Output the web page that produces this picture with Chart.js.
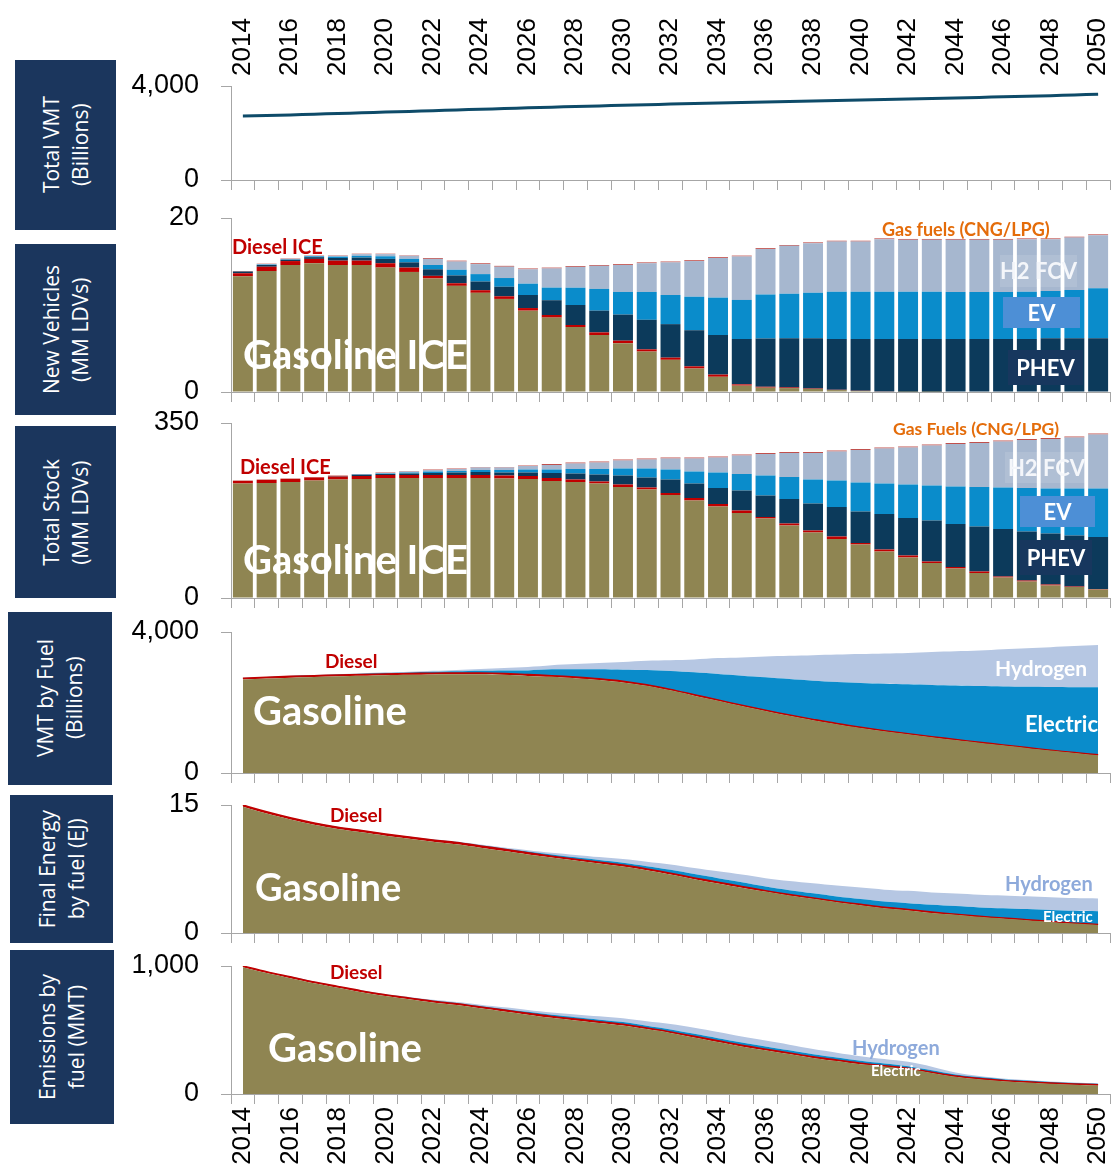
<!DOCTYPE html>
<html><head><meta charset="utf-8">
<script src="https://cdn.jsdelivr.net/npm/chart.js"></script>
<style>
html,body{margin:0;padding:0;background:#fff}
body{width:1112px;height:1171px;position:relative;overflow:hidden}
.box{position:absolute;background:#1b365d;color:#fff;display:flex;align-items:center;justify-content:center}
.box span{writing-mode:vertical-rl;transform:rotate(180deg);white-space:nowrap;text-align:center;font-family:"Open Sans",sans-serif;font-size:21px;line-height:29px}
canvas{position:absolute;left:0}
.t{position:absolute;font-family:Lato,sans-serif;font-weight:bold;white-space:nowrap;line-height:1}
.bx{position:absolute;font-family:Lato,sans-serif;font-weight:bold;color:#fff;display:flex;align-items:center;justify-content:center;line-height:1;white-space:nowrap}
</style>
</head><body>
<div class="box" style="left:15px;top:60px;width:101px;height:170px"><span>Total VMT<br>(Billions)</span></div>
<div class="box" style="left:15px;top:244px;width:101px;height:171px"><span>New Vehicles<br>(MM LDVs)</span></div>
<div class="box" style="left:15px;top:426px;width:101px;height:172px"><span>Total Stock<br>(MM LDVs)</span></div>
<div class="box" style="left:8px;top:612px;width:104px;height:173px"><span>VMT by Fuel<br>(Billions)</span></div>
<div class="box" style="left:10px;top:795px;width:103px;height:148px"><span>Final Energy<br>by fuel (EJ)</span></div>
<div class="box" style="left:10px;top:950px;width:104px;height:174px"><span>Emissions by<br>fuel (MMT)</span></div>

<canvas id="c1" width="1112" height="220" style="top:0px"></canvas>
<canvas id="c2" width="1112" height="254" style="top:178px"></canvas>
<canvas id="c3" width="1112" height="255" style="top:383px"></canvas>
<canvas id="c4" width="1112" height="221" style="top:592px"></canvas>
<canvas id="c5" width="1112" height="208" style="top:765px"></canvas>
<canvas id="c6" width="1112" height="245" style="top:926px"></canvas>

<!-- panel 2 labels -->
<div class="t" style="left:232px;top:236px;font-size:20px;color:#c00000">Diesel ICE</div>
<div class="t" style="left:243px;top:334px;font-size:40px;color:#fff">Gasoline ICE</div>
<div class="t" style="left:882px;top:220px;font-size:18px;color:#e46c0a">Gas fuels (CNG/LPG)</div>
<div class="bx" style="left:1000px;top:255px;width:77px;height:32px;font-size:22px;background:rgba(255,255,255,0.12);color:#f4f6fa">H2 FCV</div>
<div class="bx" style="left:1003px;top:297px;width:77px;height:31px;font-size:22px;background:#4d8fd6">EV</div>
<div class="bx" style="left:1008px;top:350px;width:75px;height:35px;font-size:22px;background:#17375e">PHEV</div>
<!-- panel 3 labels -->
<div class="t" style="left:240px;top:456px;font-size:20px;color:#c00000">Diesel ICE</div>
<div class="t" style="left:243px;top:539px;font-size:40px;color:#fff">Gasoline ICE</div>
<div class="t" style="left:893px;top:420px;font-size:17.5px;color:#e46c0a">Gas Fuels (CNG/LPG)</div>
<div class="bx" style="left:1005px;top:452px;width:83px;height:31px;font-size:22px;background:rgba(255,255,255,0.12);color:#f4f6fa">H2 FCV</div>
<div class="bx" style="left:1020px;top:496px;width:75px;height:31px;font-size:22px;background:#4d8fd6">EV</div>
<div class="bx" style="left:1020px;top:540px;width:72px;height:35px;font-size:22px;background:#17375e">PHEV</div>
<!-- panel 4 labels -->
<div class="t" style="left:325px;top:651px;font-size:19px;color:#c00000">Diesel</div>
<div class="t" style="left:253px;top:690px;font-size:40px;color:#fff">Gasoline</div>
<div class="t" style="left:995px;top:657px;font-size:21px;color:#fff">Hydrogen</div>
<div class="t" style="left:1025px;top:713px;font-size:22px;color:#fff">Electric</div>
<!-- panel 5 labels -->
<div class="t" style="left:330px;top:805px;font-size:19px;color:#c00000">Diesel</div>
<div class="t" style="left:255px;top:867px;font-size:38px;color:#fff">Gasoline</div>
<div class="t" style="left:1005px;top:873px;font-size:20px;color:#8eaadb">Hydrogen</div>
<div class="t" style="left:1043px;top:909px;font-size:15px;color:#fff">Electric</div>
<!-- panel 6 labels -->
<div class="t" style="left:330px;top:962px;font-size:19px;color:#c00000">Diesel</div>
<div class="t" style="left:268px;top:1027px;font-size:40px;color:#fff">Gasoline</div>
<div class="t" style="left:852px;top:1037px;font-size:20px;color:#8eaadb">Hydrogen</div>
<div class="t" style="left:871px;top:1063px;font-size:15px;color:#fff">Electric</div>

<script>
// ---------------- DATA ----------------
const years = ['2014','2015','2016','2017','2018','2019','2020','2021','2022','2023','2024','2025','2026','2027','2028','2029','2030','2031','2032','2033','2034','2035','2036','2037','2038','2039','2040','2041','2042','2043','2044','2045','2046','2047','2048','2049','2050'];

// Total VMT (billions)
const totalVMT = [2720,2740,2770,2800,2830,2860,2890,2920,2950,2980,3010,3040,3070,3100,3125,3150,3180,3205,3230,3255,3280,3300,3320,3340,3360,3380,3400,3425,3450,3470,3490,3515,3540,3565,3590,3620,3650];

// New vehicles (MM LDVs)
const nvGasoline = [13.3,13.9,14.6,14.8,14.6,14.6,14.3,13.8,13.05,12.2,11.4,10.7,9.35,8.55,7.47,6.55,5.6,4.65,3.7,2.7,1.75,0.73,0.5,0.45,0.35,0.22,0.12,0.05,0.02,0.02,0,0,0,0,0,0,0];
const nvDiesel   = [0.35,0.5,0.45,0.5,0.5,0.5,0.5,0.5,0.3,0.3,0.3,0.3,0.3,0.3,0.23,0.3,0.3,0.25,0.25,0.25,0.25,0.15,0.1,0.08,0.05,0.03,0.02,0.01,0,0,0,0,0,0,0,0,0];
const nvPHEV     = [0.2,0.2,0.15,0.2,0.3,0.35,0.5,0.6,0.75,0.9,1.0,1.1,1.5,1.7,2.3,2.5,3.0,3.4,3.85,4.15,4.55,5.2,5.55,5.64,5.77,5.84,5.95,6.03,6.07,6.07,6.09,6.09,6.09,6.09,6.17,6.17,6.17];
const nvEV       = [0,0.05,0.05,0.1,0.15,0.2,0.3,0.4,0.5,0.65,0.85,1.0,1.3,1.45,1.99,2.5,2.6,3.2,3.35,3.85,4.3,4.5,5.05,5.13,5.25,5.44,5.44,5.44,5.44,5.44,5.4,5.4,5.4,5.44,5.44,5.55,5.75];
const nvH2       = [0,0.05,0.05,0.05,0.1,0.2,0.25,0.35,0.7,0.95,1.15,1.3,1.65,2.2,2.39,2.65,3.1,3.3,3.75,4.1,4.55,5.0,5.25,5.5,5.68,5.76,5.76,6.03,5.96,5.96,6.0,6.0,6.0,6.03,5.95,6.03,6.1];
const nvGasFuels = [0.05,0.05,0.05,0.05,0.05,0.05,0.05,0.05,0.1,0.1,0.1,0.1,0.1,0.1,0.1,0.1,0.1,0.1,0.1,0.1,0.1,0.1,0.1,0.1,0.1,0.1,0.1,0.1,0.1,0.1,0.1,0.1,0.1,0.1,0.1,0.1,0.1];

// Total stock (MM LDVs)
const stGasoline = [229,230,232,235,237,238,240,240,240,240,240,239,238,234,232,229,222,217,206,195,183,170,159,145,131,118,107,93,81,70,59,50,41,33,25,22,17];
const stDiesel   = [5,6,6,6,6,6,6,6,6,6,6,6,6,6,5,4,5,4,4,5,5,5,3,4,4,5,3,4,4,3,3,3,2,2,2,1,1];
const stPHEV     = [0,0,0,0,1,2,2,3,4,5,6,6,7,10,12,14,18,20,27,29,32,40,43,49,54,59,63,71,75,82,86,90,95,98,102,102,104];
const stEV       = [0,0,0,0,0,1,1,2,3,3,4,5,6,7,9,11,14,18,20,24,31,33,40,44,48,53,58,61,67,70,75,79,83,87,90,94,97];
const stH2       = [0,0,0,0,0,0,1,2,3,4,5,5,7,9,11,13,16,18,22,26,30,37,43,48,53,58,65,70,74,80,85,88,92,96,99,102,108];
const stGasFuels = [1,1,1,1,1,1,1,1,1,1,1,1,1,2,2,2,2,2,2,2,2,2,2,2,2,2,2,2,2,2,2,2,2,2,2,2,2];

// VMT by fuel (billions)
const vmtGasoline = [2655,2680,2705,2725,2745,2760,2775,2785,2795,2800,2800,2785,2755,2730,2690,2640,2570,2475,2345,2195,2050,1900,1760,1625,1500,1385,1280,1185,1100,1015,935,860,785,710,635,570,505];
const vmtDiesel   = [35,35,35,35,35,35,35,35,35,35,35,35,35,30,30,30,30,25,25,25,20,20,20,20,20,15,15,15,15,15,15,10,10,10,10,10,10];
const vmtElectric = [5,5,10,10,15,20,25,30,40,50,65,90,120,180,220,270,330,420,525,635,735,840,935,1020,1100,1180,1255,1330,1400,1465,1530,1595,1660,1725,1795,1855,1915];
const vmtHydrogen = [5,5,10,10,10,15,20,25,30,40,50,70,100,120,150,180,220,265,305,365,455,520,590,660,720,780,825,860,890,940,975,1010,1055,1095,1130,1165,1200];

// Final energy by fuel (EJ)
const enGasoline = [14.8,14.0,13.3,12.7,12.2,11.8,11.4,11.05,10.7,10.4,10.0,9.6,9.2,8.85,8.5,8.15,7.8,7.35,6.85,6.3,5.8,5.3,4.85,4.4,4.0,3.6,3.25,2.9,2.65,2.35,2.15,1.9,1.7,1.5,1.3,1.1,0.95];
const enDiesel   = [0.2,0.2,0.2,0.2,0.2,0.2,0.2,0.2,0.2,0.2,0.2,0.2,0.2,0.15,0.15,0.15,0.15,0.15,0.15,0.15,0.15,0.15,0.1,0.1,0.1,0.1,0.1,0.1,0.1,0.1,0.05,0.05,0.05,0.05,0.05,0.05,0.05];
const enElectric = [0,0,0,0.01,0.01,0.01,0.01,0.02,0.03,0.05,0.07,0.1,0.15,0.2,0.22,0.25,0.28,0.33,0.4,0.45,0.48,0.5,0.5,0.52,0.55,0.58,0.62,0.68,0.75,0.85,0.95,1.05,1.15,1.25,1.35,1.45,1.55];
const enHydrogen = [0,0,0,0.01,0.01,0.02,0.03,0.04,0.05,0.07,0.09,0.12,0.16,0.2,0.28,0.35,0.43,0.52,0.62,0.71,0.8,0.9,0.98,1.08,1.18,1.28,1.35,1.4,1.44,1.46,1.48,1.49,1.5,1.5,1.5,1.5,1.5];

// Emissions by fuel (MMT)
const emGasoline = [990,945,905,865,830,795,765,740,715,695,670,645,620,595,575,555,535,507,477,442,407,372,342,312,282,257,232,215,195,165,135,115,100,90,80,73,67];
const emDiesel   = [10,10,10,10,10,10,10,10,10,10,10,10,10,10,10,10,10,8,8,8,8,8,8,8,8,8,8,5,5,5,5,5,5,5,5,5,5];
const emElectric = [1,1,2,2,2,3,3,4,5,6,8,10,12,14,15,16,17,18,19,20,21,22,22,22,21,20,19,18,17,15,13,12,11,10,9,8,8];
const emHydrogen = [1,1,2,2,2,3,3,4,6,8,10,12,15,18,22,26,30,35,42,47,48,47,45,43,40,38,36,35,34,28,15,8,5,4,3,3,3];

// axis maxima (tick labels at 0 and max)
const axisMax = [4000, 20, 350, 4000, 15, 1000];

// ---------------- STYLE ----------------
const C = {
  gasoline:'#8f8552', diesel:'#c00000', phev:'#0c3a5b', ev:'#0a8ccb', h2bar:'#a6b7cf', gasfuel:'#c0504d',
  elecArea:'#0a8ccb', h2Area:'#b6c7e3', line:'#0e4b69', axis:'#a6a6a6'
};
const tickFont = {family:'"Liberation Sans", Arial, sans-serif', size:27};
const yearFont = {family:'"Liberation Sans", Arial, sans-serif', size:26};
const LEFT = 231;

function xAxis(showLabels){
  return {
    type:'category', offset:true, stacked:true,
    grid:{display:true, drawOnChartArea:false, drawTicks:true, tickLength:10, offset:true, color:C.axis, lineWidth:1},
    border:{display:true, color:C.axis, width:1},
    ticks:{display:showLabels, autoSkip:false, maxRotation:90, minRotation:90, padding:3, font:yearFont, color:'#000',
      callback:(v,i)=> (i%2===0 ? years[i] : '')},
    afterFit: s => { s.height = showLabels ? 77 : 10; s.paddingLeft = 0; s.paddingRight = 0; }
  };
}
function yAxis(max){
  return {
    min:0, max:max, stacked:true,
    grid:{display:true, drawOnChartArea:false, drawTicks:true, tickLength:10, color:C.axis, lineWidth:1},
    border:{display:true, color:C.axis, width:1},
    ticks:{padding:22, font:tickFont, color:'#000', callback:v=>Number(v).toLocaleString('en-US')},
    afterBuildTicks: s => { s.ticks = [{value:0},{value:max}]; },
    afterFit: s => { s.width = LEFT; }
  };
}
function baseOpts(padTop, padBottom, scales){
  return {
    responsive:false, devicePixelRatio:1, animation:false,
    layout:{padding:{left:0, right:2, top:padTop, bottom:padBottom}},
    plugins:{legend:{display:false}, tooltip:{enabled:false}},
    elements:{point:{radius:0}},
    scales:scales
  };
}
function bar(label, data, color){
  return {label, data, backgroundColor:color, borderWidth:0, categoryPercentage:1.0, barPercentage:0.84};
}
function area(label, data, color, fill, border){
  return {label, data, backgroundColor:color, borderColor:border||color, borderWidth:border?1.6:0, fill:fill, pointRadius:0, tension:0.3};
}

// Panel 1: total VMT line
new Chart(document.getElementById('c1'), {
  type:'line',
  data:{labels:years, datasets:[{label:'Total VMT', data:totalVMT, borderColor:C.line, borderWidth:3, fill:false, pointRadius:0, tension:0.2}]},
  options: baseOpts(6, 30, {
    x: Object.assign(xAxis(false), {stacked:false}),
    xt: {type:'category', position:'top', offset:true, grid:{display:false, drawTicks:false}, border:{display:false},
         ticks:{autoSkip:false, maxRotation:90, minRotation:90, padding:10, labelOffset:31, font:yearFont, color:'#000',
                callback:(v,i)=> (i%2===0 ? years[i] : '')},
         afterFit: s => { s.height = 80; s.paddingLeft = 0; s.paddingRight = 0; }},
    y: Object.assign(yAxis(axisMax[0]), {stacked:false})
  })
});

// Panel 2: new vehicles
new Chart(document.getElementById('c2'), {
  type:'bar',
  data:{labels:years, datasets:[
    bar('Gasoline ICE', nvGasoline, C.gasoline),
    bar('Diesel ICE', nvDiesel, C.diesel),
    bar('PHEV', nvPHEV, C.phev),
    bar('EV', nvEV, C.ev),
    bar('H2 FCV', nvH2, C.h2bar),
    bar('Gas fuels (CNG/LPG)', nvGasFuels, C.gasfuel)
  ]},
  options: baseOpts(40, 30, {x:xAxis(false), y:yAxis(axisMax[1])})
});

// Panel 3: total stock
new Chart(document.getElementById('c3'), {
  type:'bar',
  data:{labels:years, datasets:[
    bar('Gasoline ICE', stGasoline, C.gasoline),
    bar('Diesel ICE', stDiesel, C.diesel),
    bar('PHEV', stPHEV, C.phev),
    bar('EV', stEV, C.ev),
    bar('H2 FCV', stH2, C.h2bar),
    bar('Gas Fuels (CNG/LPG)', stGasFuels, C.gasfuel)
  ]},
  options: baseOpts(40, 30, {x:xAxis(false), y:yAxis(axisMax[2])})
});

// Panel 4: VMT by fuel
new Chart(document.getElementById('c4'), {
  type:'line',
  data:{labels:years, datasets:[
    area('Gasoline', vmtGasoline, C.gasoline, 'origin'),
    area('Diesel', vmtDiesel, C.diesel, '-1', C.diesel),
    area('Electric', vmtElectric, C.elecArea, '-1'),
    area('Hydrogen', vmtHydrogen, C.h2Area, '-1')
  ]},
  options: baseOpts(40, 30, {x:xAxis(false), y:yAxis(axisMax[3])})
});

// Panel 5: final energy
new Chart(document.getElementById('c5'), {
  type:'line',
  data:{labels:years, datasets:[
    area('Gasoline', enGasoline, C.gasoline, 'origin'),
    area('Diesel', enDiesel, C.diesel, '-1', C.diesel),
    area('Electric', enElectric, C.elecArea, '-1'),
    area('Hydrogen', enHydrogen, C.h2Area, '-1')
  ]},
  options: baseOpts(40, 30, {x:xAxis(false), y:yAxis(axisMax[4])})
});

// Panel 6: emissions
new Chart(document.getElementById('c6'), {
  type:'line',
  data:{labels:years, datasets:[
    area('Gasoline', emGasoline, C.gasoline, 'origin'),
    area('Diesel', emDiesel, C.diesel, '-1', C.diesel),
    area('Electric', emElectric, C.elecArea, '-1'),
    area('Hydrogen', emHydrogen, C.h2Area, '-1')
  ]},
  options: baseOpts(40, 0, {x:xAxis(true), y:yAxis(axisMax[5])})
});
</script>
</body></html>
